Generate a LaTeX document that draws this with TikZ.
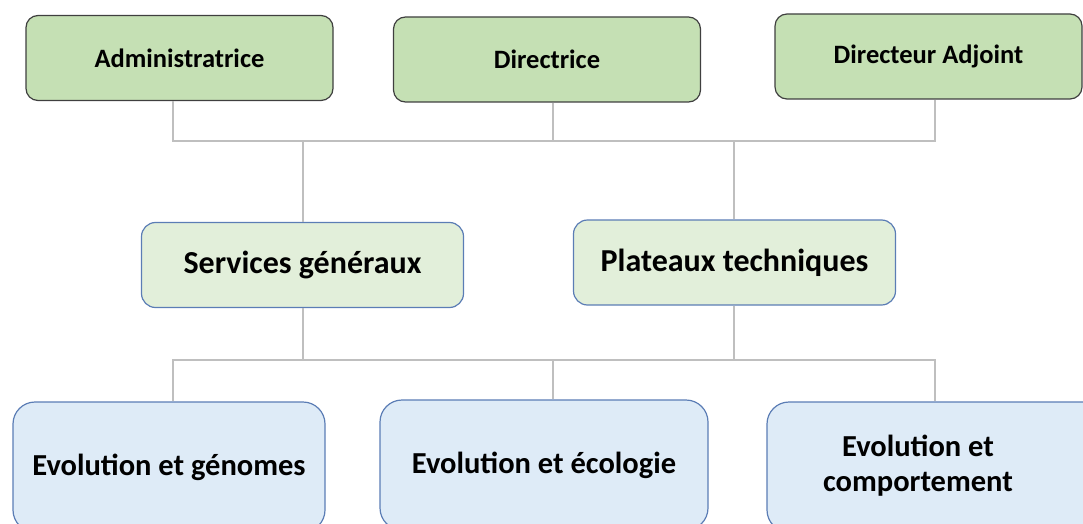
\documentclass[tikz,border=0pt]{standalone}
\usepackage{fontspec}
\setmainfont{Carlito}

\definecolor{topfill}{HTML}{C5E0B4}
\definecolor{topline}{HTML}{3F3F3F}
\definecolor{midfill}{HTML}{E2EFDA}
\definecolor{lowfill}{HTML}{DEEBF7}
\definecolor{boxblue}{HTML}{5B7DB5}
\definecolor{linkgray}{HTML}{BFBFBF}

\begin{document}
\begin{tikzpicture}[x=1pt,y=-1pt,
    topbox/.style={draw=topline, fill=topfill, line width=1.2pt, rounded corners=12pt,
      minimum width=307pt, minimum height=85pt, inner sep=0pt,
      font=\fontsize{26.5}{30}\selectfont\bfseries},
    midbox/.style={draw=boxblue, fill=midfill, line width=1.2pt, rounded corners=14pt,
      minimum width=322pt, minimum height=85pt, inner sep=0pt,
      font=\fontsize{32}{38}\selectfont\bfseries},
    lowbox/.style={draw=boxblue, fill=lowfill, line width=1.2pt, rounded corners=22pt,
      minimum height=130pt, inner sep=0pt,
      font=\fontsize{30.5}{37}\selectfont\bfseries},
    link/.style={draw=linkgray, line width=1.4pt}]
  \useasboundingbox (0,0) rectangle (1083,524);
  \clip (0,0) rectangle (1083,524);

  % bus points
  \coordinate (t1) at (173,141);
  \coordinate (t2) at (303,141);
  \coordinate (t3) at (553,141);
  \coordinate (t4) at (734,141);
  \coordinate (t5) at (935,141);
  \coordinate (l1) at (173,360);
  \coordinate (l2) at (303,360);
  \coordinate (l3) at (553,360);
  \coordinate (l4) at (734,360);
  \coordinate (l5) at (935,360);

  % direction
  \node[topbox] (admin) at (179.5,58) {Administratrice};
  \node[topbox] (dir) at (547,59.5) {Directrice};
  \node[topbox] (adj) at (928.5,56.5) {Directeur Adjoint};

  % services
  \node[midbox] (serv) at (302.5,265) {Services généraux};
  \node[midbox] (plat) at (734.5,262.5) {Plateaux techniques};

  % teams
  \node[lowbox, minimum width=312pt] (gen) at (169,467) {Evolution et génomes};
  \node[lowbox, minimum width=328pt] (eco) at (544,465) {Evolution et écologie};
  \node[lowbox, minimum width=345pt] (comp) at (939.5,467)
    {\hspace*{-43pt}\begin{tabular}{@{}c@{}}Evolution et\\[-2pt]comportement\end{tabular}};

  \draw[link] (admin.south -| t1) -- (t1) -- (t5) -- (adj.south -| t5);
  \draw[link] (dir.south -| t3) -- (t3);
  \draw[link] (t2) -- (serv.north -| t2);
  \draw[link] (t4) -- (plat.north -| t4);
  \draw[link] (serv.south -| l2) -- (l2);
  \draw[link] (plat.south -| l4) -- (l4);
  \draw[link] (gen.north -| l1) -- (l1) -- (l5) -- (comp.north -| l5);
  \draw[link] (l3) -- (eco.north -| l3);
\end{tikzpicture}
\end{document}
